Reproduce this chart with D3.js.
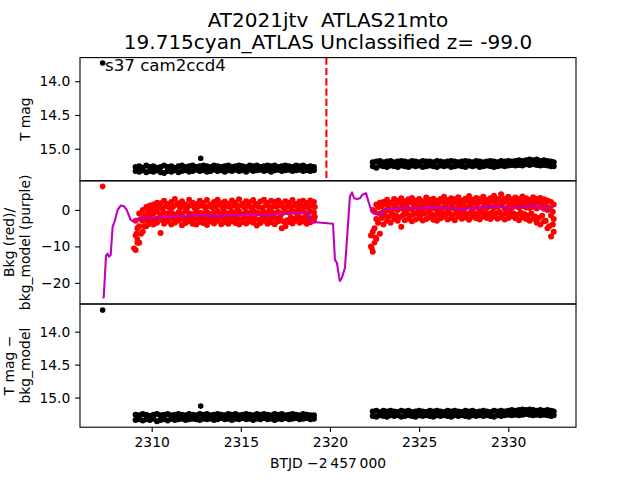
<!DOCTYPE html>
<html>
<head>
<meta charset="utf-8">
<script src="https://cdn.jsdelivr.net/npm/d3@7"></script>
<style>
  html, body { margin: 0; padding: 0; background: #fff; }
  svg { display: block; font-family: "DejaVu Sans", sans-serif; }
  text { white-space: pre; }
</style>
</head>
<body>
<script>
// ---------------- DATA ----------------
const titleLines = ["AT2021jtv  ATLAS21mto", "19.715cyan_ATLAS Unclassified z= -99.0"];
const annotation = "s37 cam2ccd4";
const xTicks = [2310, 2315, 2320, 2325, 2330];
const magTicks = [14.0, 14.5, 15.0];
const bkgTicks = [0, -10, -20];
const eventTime = 2319.8;

// times of segment 1 and segment 2 (BTJD - 2457000), plus interleaved half-step times
const t1 = [2309.1,2309.3,2309.5,2309.7,2309.9,2310.1,2310.3,2310.5,2310.7,2310.9,
            2311.1,2311.3,2311.5,2311.7,2311.9,2312.1,2312.3,2312.5,2312.7,2312.9,
            2313.1,2313.3,2313.5,2313.7,2313.9,2314.1,2314.3,2314.5,2314.7,2314.9,
            2315.1,2315.3,2315.5,2315.7,2315.9,2316.1,2316.3,2316.5,2316.7,2316.9,
            2317.1,2317.3,2317.5,2317.7,2317.9,2318.1,2318.3,2318.5,2318.7,2318.9,
            2319.1];
const t1h = [2309.2,2309.4,2309.6,2309.8,2310.0,2310.2,2310.4,2310.6,2310.8,2311.0,
             2311.2,2311.4,2311.6,2311.8,2312.0,2312.2,2312.4,2312.6,2312.8,2313.0,
             2313.2,2313.4,2313.6,2313.8,2314.0,2314.2,2314.4,2314.6,2314.8,2315.0,
             2315.2,2315.4,2315.6,2315.8,2316.0,2316.2,2316.4,2316.6,2316.8,2317.0,
             2317.2,2317.4,2317.6,2317.8,2318.0,2318.2,2318.4,2318.6,2318.8,2319.0,
             2319.15];
const t2 = [2322.4,2322.6,2322.8,2323.0,2323.2,2323.4,2323.6,2323.8,2324.0,2324.2,
            2324.4,2324.6,2324.8,2325.0,2325.2,2325.4,2325.6,2325.8,2326.0,2326.2,
            2326.4,2326.6,2326.8,2327.0,2327.2,2327.4,2327.6,2327.8,2328.0,2328.2,
            2328.4,2328.6,2328.8,2329.0,2329.2,2329.4,2329.6,2329.8,2330.0,2330.2,
            2330.4,2330.6,2330.8,2331.0,2331.2,2331.4,2331.6,2331.8,2332.0,2332.2,
            2332.4,2332.55];
const t2h = [2322.3,2322.5,2322.7,2322.9,2323.1,2323.3,2323.5,2323.7,2323.9,2324.1,
             2324.3,2324.5,2324.7,2324.9,2325.1,2325.3,2325.5,2325.7,2325.9,2326.1,
             2326.3,2326.5,2326.7,2326.9,2327.1,2327.3,2327.5,2327.7,2327.9,2328.1,
             2328.3,2328.5,2328.7,2328.9,2329.1,2329.3,2329.5,2329.7,2329.9,2330.1,
             2330.3,2330.5,2330.7,2330.9,2331.1,2331.3,2331.5,2331.7,2331.9,2332.1,
             2332.3,2332.5];

// Panel 1: T mag
const tmagA1 = [15.27,15.26,15.28,15.25,15.27,15.26,15.28,15.27,15.25,15.27,
                15.26,15.28,15.26,15.25,15.27,15.26,15.25,15.27,15.26,15.25,
                15.26,15.27,15.25,15.26,15.27,15.26,15.25,15.27,15.26,15.25,
                15.26,15.27,15.25,15.26,15.25,15.27,15.26,15.25,15.26,15.25,
                15.27,15.26,15.25,15.26,15.27,15.25,15.26,15.25,15.27,15.26,
                15.27];
const tmagB1 = [15.33,15.34,15.32,15.35,15.33,15.34,15.32,15.35,15.36,15.33,
                15.34,15.32,15.35,15.33,15.32,15.34,15.33,15.31,15.33,15.32,
                15.34,15.33,15.31,15.33,15.32,15.34,15.32,15.33,15.31,15.33,
                15.32,15.34,15.31,15.33,15.32,15.31,15.33,15.32,15.34,15.32,
                15.31,15.33,15.32,15.31,15.33,15.32,15.31,15.33,15.32,15.33,
                15.32];
const tmagA2 = [15.20,15.19,15.18,15.20,15.19,15.18,15.20,15.19,15.18,15.19,
                15.20,15.18,15.19,15.20,15.18,15.19,15.19,15.20,15.18,15.19,
                15.20,15.19,15.18,15.19,15.20,15.19,15.18,15.19,15.20,15.18,
                15.19,15.20,15.19,15.18,15.19,15.20,15.18,15.19,15.18,15.19,
                15.18,15.17,15.18,15.17,15.16,15.17,15.16,15.18,15.17,15.18,
                15.19,15.20];
const tmagB2 = [15.26,15.28,15.25,15.26,15.27,15.25,15.26,15.27,15.25,15.26,
                15.27,15.25,15.26,15.25,15.27,15.26,15.25,15.26,15.27,15.25,
                15.26,15.25,15.27,15.26,15.25,15.26,15.27,15.25,15.26,15.25,
                15.27,15.26,15.25,15.26,15.27,15.26,15.25,15.26,15.25,15.24,
                15.25,15.24,15.25,15.23,15.24,15.23,15.24,15.25,15.24,15.25,
                15.26,15.26];
const extraT = [2307.25, 2312.75];
const tmagExtra = [13.73, 15.14];

// Panel 2: background (red) and background model (purple)
const bkgHi1 = [-3.0,-1.0,0.0,0.8,1.2,1.5,2.0,1.8,2.5,1.6,
                2.2,3.0,1.8,2.4,1.5,2.8,2.0,1.6,2.5,1.9,
                2.7,1.5,2.2,2.8,1.8,2.3,1.6,2.6,2.0,2.9,
                1.7,2.4,2.1,2.7,1.6,2.3,2.8,1.9,2.5,2.2,
                2.6,1.8,2.4,2.0,2.7,1.6,2.3,2.5,1.9,2.6,
                2.2];
const bkgUm1 = [-5.0,-2.5,-1.5,-0.5,0.2,0.5,0.8,0.4,1.0,0.6,
                0.9,1.4,0.5,1.1,0.7,1.3,0.6,0.9,1.2,0.5,
                1.1,0.7,1.0,1.4,0.6,1.0,0.8,1.2,0.5,1.3,
                0.7,1.1,0.6,1.2,0.8,0.5,1.3,0.7,1.0,0.9,
                1.2,0.6,1.0,0.8,1.3,0.5,1.1,0.9,0.7,1.2,
                0.8];
const bkgMid1 = [-7.0,-4.5,-3.0,-2.0,-1.5,-1.0,-0.5,-1.2,-0.8,-1.0,
                 -0.6,-1.3,-0.7,-1.1,-0.4,-0.9,-1.2,-0.5,-0.8,-1.0,
                 -0.6,-1.1,-0.7,-0.3,-0.9,-0.6,-1.0,-0.5,-0.8,-0.4,
                 -1.1,-0.6,-0.9,-0.3,-0.7,-1.0,-0.5,-0.8,-0.4,-0.9,
                 -0.6,-1.0,-0.5,-0.7,-0.3,-0.8,-0.6,-0.4,-0.9,-0.5,
                 -0.7];
const bkgLm1 = [-9.0,-6.5,-4.5,-3.2,-2.6,-2.5,-2.2,-2.8,-2.4,-2.1,
                -2.5,-2.3,-2.0,-2.6,-2.2,-1.9,-2.5,-2.3,-2.0,-2.4,
                -2.6,-2.1,-2.3,-1.8,-2.5,-2.2,-2.4,-2.0,-2.3,-2.6,
                -2.0,-2.4,-2.1,-2.3,-2.7,-2.2,-1.9,-2.5,-2.1,-2.4,
                -2.0,-3.2,-2.8,-2.1,-2.4,-1.9,-2.3,-2.0,-2.5,-2.2,
                -1.9];
const bkgLo1 = [-11.0,-9.0,-6.0,-4.5,-3.8,-4.0,-3.5,-6.3,-3.8,-3.2,
                -4.0,-3.5,-3.0,-4.2,-3.6,-3.1,-3.8,-4.0,-3.3,-3.6,
                -4.1,-3.2,-3.7,-3.0,-3.9,-3.4,-3.8,-3.1,-3.6,-4.0,
                -3.3,-3.7,-3.2,-3.5,-4.3,-3.6,-3.0,-3.8,-3.4,-3.9,
                -3.1,-5.0,-4.5,-3.3,-3.7,-3.0,-3.5,-3.2,-3.8,-3.4,
                -3.0];
const bkgHi2 = [0.0,1.5,2.0,2.2,2.8,2.0,3.0,2.5,3.2,2.4,
                2.9,3.3,2.6,3.0,2.4,3.4,2.8,3.1,2.5,3.0,
                3.6,2.7,3.2,2.9,3.5,2.6,3.1,3.8,2.8,3.3,
                3.0,3.6,2.7,3.2,3.9,3.0,4.3,3.1,3.6,2.9,
                3.4,3.0,3.7,3.2,2.8,3.5,3.0,3.3,2.9,2.6,
                2.2,1.5];
const bkgUm2 = [-7.0,-0.5,0.8,1.0,1.5,1.1,1.8,1.4,2.0,1.2,
                1.7,2.1,1.5,1.8,1.3,2.2,1.6,1.9,1.4,1.8,
                2.3,1.5,2.0,1.7,2.3,1.4,1.9,2.5,1.6,2.1,
                1.8,2.4,1.5,2.0,2.6,1.8,2.8,1.9,2.3,1.7,
                2.2,1.8,2.5,2.0,1.6,2.3,1.8,2.1,1.6,1.3,
                0.5,-0.5];
const bkgMid2 = [-6.0,-2.5,-1.0,-0.5,0.0,-0.3,0.3,0.0,0.5,-0.2,
                 0.4,0.1,0.6,0.0,0.3,0.7,0.2,0.5,-0.1,0.4,
                 0.8,0.2,0.6,0.3,0.9,0.1,0.5,1.0,0.4,0.7,
                 0.2,0.8,0.5,1.0,0.6,0.9,1.2,0.4,0.8,0.5,
                 1.0,0.6,1.1,0.7,0.5,0.9,0.4,0.8,0.3,0.0,
                 -1.5,-2.5];
const bkgLm2 = [-10.0,-5.0,-3.5,-2.2,-1.5,-1.9,-1.1,-1.5,-2.0,-1.4,
                -1.0,-1.6,-1.1,-0.9,-1.4,-1.0,-0.8,-1.2,-1.5,-1.0,
                -0.7,-1.2,-0.9,-1.3,-0.6,-1.1,-0.8,-1.2,-0.7,-1.0,
                -1.2,-0.6,-0.9,-1.1,-0.7,-1.0,-0.6,-1.2,-0.9,-0.5,
                -1.0,-1.3,-0.8,-1.1,-1.5,-1.0,-1.8,-2.2,-1.6,-3.0,
                -4.5,-4.0];
const bkgLo2 = [-11.5,-8.0,-6.5,-4.0,-3.0,-3.5,-2.5,-3.0,-4.6,-2.8,
                -2.4,-3.1,-2.6,-2.2,-2.9,-2.5,-2.0,-2.7,-3.0,-2.3,
                -1.9,-2.6,-2.2,-2.8,-1.8,-2.4,-2.1,-2.7,-1.9,-2.3,
                -2.6,-1.8,-2.2,-2.5,-1.9,-2.4,-2.0,-2.6,-2.2,-1.7,
                -2.3,-2.8,-2.1,-2.5,-3.0,-2.4,-3.5,-4.0,-3.2,-5.0,
                -7.3,-6.0];
const bkgExtraT = [2307.25, 2309.0, 2309.2, 2309.15, 2322.35, 2322.5, 2322.55];
const bkgExtraV = [6.45, -10.5, -8.0, -6.5, -10.5, -9.0, -7.5];

const modelT = [2307.25,2307.31,2307.44,2307.53,2307.60,2307.70,2307.81,2307.92,2308.09,2308.26,
                2308.43,2308.60,2308.82,2308.99,2309.3,2309.6,2309.9,2310.3,2310.7,2311.0,
                2311.4,2311.8,2312.2,2312.7,2313.1,2313.5,2314.0,2314.4,2314.8,2315.2,
                2315.5,2315.9,2316.3,2316.6,2317.0,2317.4,2317.75,2318.1,2318.5,2318.76,
                2318.93,2319.04,2320.17,2320.28,2320.39,2320.51,2320.56,2320.67,2320.84,2321.01,
                2321.12,2321.24,2321.35,2321.52,2321.69,2321.80,2322.02,2322.19,2322.36,2322.58,
                2322.92,2323.03,2323.4,2323.9,2324.4,2324.9,2325.6,2326.2,2326.8,2327.30,
                2327.42,2327.58,2328.1,2328.6,2329.1,2329.55,2329.83,2330.3,2330.8,2331.24,
                2331.5,2331.80,2332.25,2332.53];
const modelV = [-24.1,-24.0,-12.5,-12.0,-12.8,-12.4,-4.6,-3.2,0.0,1.2,
                1.1,0.0,-2.7,-3.2,-2.2,-2.4,-2.1,-2.2,-1.8,-1.9,
                -1.6,-1.8,-1.5,-1.4,-1.7,-1.5,-1.6,-1.5,-1.3,-1.6,
                -1.0,-1.4,-1.3,-1.5,-1.2,-1.0,-1.1,-0.8,-0.9,-0.5,
                -3.2,-3.3,-3.8,-13.7,-14.5,-18.3,-19.5,-18.6,-15.9,-4.1,
                3.7,4.8,3.2,3.0,3.2,4.1,4.6,1.8,-0.6,-1.2,
                -1.4,0.2,0.3,0.5,0.6,0.4,0.7,0.6,0.5,0.3,
                -0.3,0.3,0.5,0.7,0.9,1.1,0.5,0.6,0.8,1.2,
                1.0,0.5,0.6,0.6];

// Panel 3: T mag - bkg_model
const diffA1 = [15.26,15.27,15.25,15.26,15.28,15.26,15.25,15.27,15.26,15.25,
                15.27,15.26,15.25,15.26,15.27,15.25,15.26,15.27,15.25,15.26,
                15.25,15.27,15.26,15.25,15.26,15.27,15.25,15.26,15.25,15.27,
                15.26,15.25,15.26,15.27,15.25,15.26,15.25,15.26,15.27,15.25,
                15.26,15.25,15.27,15.26,15.25,15.26,15.27,15.25,15.26,15.27,
                15.27];
const diffB1 = [15.34,15.33,15.35,15.33,15.34,15.32,15.36,15.34,15.33,15.35,
                15.32,15.34,15.33,15.32,15.34,15.33,15.32,15.33,15.34,15.32,
                15.33,15.32,15.34,15.33,15.31,15.33,15.32,15.34,15.32,15.33,
                15.31,15.33,15.32,15.34,15.32,15.33,15.31,15.33,15.32,15.34,
                15.32,15.33,15.31,15.33,15.32,15.31,15.33,15.32,15.31,15.33,
                15.32];
const diffA2 = [15.21,15.20,15.22,15.20,15.21,15.20,15.21,15.22,15.20,15.21,
                15.20,15.22,15.21,15.20,15.21,15.22,15.20,15.21,15.20,15.21,
                15.22,15.20,15.21,15.20,15.21,15.22,15.20,15.21,15.20,15.22,
                15.21,15.20,15.21,15.22,15.20,15.21,15.20,15.21,15.20,15.19,
                15.20,15.19,15.18,15.19,15.18,15.19,15.20,15.19,15.20,15.19,
                15.20,15.21];
const diffB2 = [15.28,15.29,15.27,15.28,15.29,15.27,15.28,15.27,15.29,15.28,
                15.27,15.28,15.29,15.27,15.28,15.27,15.28,15.29,15.27,15.28,
                15.27,15.28,15.29,15.27,15.28,15.27,15.28,15.29,15.27,15.28,
                15.27,15.28,15.27,15.28,15.29,15.27,15.28,15.27,15.26,15.27,
                15.26,15.27,15.26,15.25,15.26,15.27,15.26,15.27,15.26,15.27,
                15.28,15.27];
const diffExtra = [13.67, 15.13];

// ---------------- LAYOUT ----------------
const W = 640, H = 480;
const L = 80, R = 576;
const rows = [[57.6, 180.8], [180.8, 304], [304, 427.2]];
const FS = 13.89, FS_T = 20, FS_A = 16.67;
const LW = 2.08, SPINE = 1.11;

const svg = d3.select("body").append("svg").attr("width", W).attr("height", H);
svg.append("rect").attr("width", W).attr("height", H).attr("fill", "#fff");

const x = d3.scaleLinear().domain([2305.98, 2333.80]).range([L, R]);
const y1 = d3.scaleLinear().domain([13.65, 15.475]).range(rows[0]);
const y2 = d3.scaleLinear().domain([-25.8, 7.99]).range([rows[1][1], rows[1][0]]);
const y3 = d3.scaleLinear().domain([13.58, 15.45]).range(rows[2]);

const defs = svg.append("defs");
rows.forEach((r, i) => {
  defs.append("clipPath").attr("id", "clip" + i)
    .append("rect").attr("x", L).attr("y", r[0]).attr("width", R - L).attr("height", r[1] - r[0]);
});

function dots(g, ts, vs, ys, color, rad) {
  const pts = ts.map((t, i) => [t, vs[i]]).filter(d => d[1] !== undefined);
  g.selectAll(null).data(pts).enter().append("circle")
    .attr("cx", d => x(d[0])).attr("cy", d => ys(d[1])).attr("r", rad).attr("fill", color);
}

const TICK = 4.86, PAD = 4.86;
function styleAxis(g) {
  g.select(".domain").remove();
  g.selectAll(".tick line").attr("stroke", "#000").attr("stroke-width", SPINE);
  g.selectAll(".tick text").attr("fill", "#000").style("font-size", FS + "px").style("font-family", "DejaVu Sans");
}

// Panel 1
const g1 = svg.append("g").attr("clip-path", "url(#clip0)");
dots(g1, t1, tmagA1, y1, "#000", 3);
dots(g1, t1, tmagB1, y1, "#000", 3);
dots(g1, t2, tmagA2, y1, "#000", 3);
dots(g1, t2, tmagB2, y1, "#000", 3);
dots(g1, extraT, tmagExtra, y1, "#000", 2.8);
g1.append("line").attr("x1", x(eventTime)).attr("x2", x(eventTime))
  .attr("y1", rows[0][0]).attr("y2", rows[0][1])
  .attr("stroke", "#ff0000").attr("stroke-width", LW).attr("stroke-dasharray", "7.2,3.1");

// Panel 2
const g2 = svg.append("g").attr("clip-path", "url(#clip1)");
dots(g2, t1, bkgHi1, y2, "#ff0000", 3);
dots(g2, t1h, bkgUm1, y2, "#ff0000", 3);
dots(g2, t1, bkgMid1, y2, "#ff0000", 3);
dots(g2, t1h, bkgLm1, y2, "#ff0000", 3);
dots(g2, t1, bkgLo1, y2, "#ff0000", 3);
dots(g2, t2, bkgHi2, y2, "#ff0000", 3);
dots(g2, t2h, bkgUm2, y2, "#ff0000", 3);
dots(g2, t2, bkgMid2, y2, "#ff0000", 3);
dots(g2, t2h, bkgLm2, y2, "#ff0000", 3);
dots(g2, t2, bkgLo2, y2, "#ff0000", 3);
dots(g2, bkgExtraT, bkgExtraV, y2, "#ff0000", 2.8);
g2.append("path")
  .datum(modelT.map((t, i) => [t, modelV[i]]))
  .attr("d", d3.line().x(d => x(d[0])).y(d => y2(d[1])))
  .attr("fill", "none").attr("stroke", "#bf00bf").attr("stroke-width", LW).attr("stroke-linejoin", "round");

// Panel 3
const g3 = svg.append("g").attr("clip-path", "url(#clip2)");
dots(g3, t1, diffA1, y3, "#000", 3);
dots(g3, t1, diffB1, y3, "#000", 3);
dots(g3, t2, diffA2, y3, "#000", 3);
dots(g3, t2, diffB2, y3, "#000", 3);
dots(g3, extraT, diffExtra, y3, "#000", 2.8);

// Axes
svg.append("g").attr("transform", `translate(${L},0)`)
  .call(d3.axisLeft(y1).tickValues(magTicks).tickFormat(d3.format(".1f")).tickSize(TICK).tickPadding(PAD)).call(styleAxis);
svg.append("g").attr("transform", `translate(${L},0)`)
  .call(d3.axisLeft(y2).tickValues(bkgTicks).tickFormat(d3.format("d")).tickSize(TICK).tickPadding(PAD)).call(styleAxis);
svg.append("g").attr("transform", `translate(${L},0)`)
  .call(d3.axisLeft(y3).tickValues(magTicks).tickFormat(d3.format(".1f")).tickSize(TICK).tickPadding(PAD)).call(styleAxis);
svg.append("g").attr("transform", `translate(0,${rows[2][1]})`)
  .call(d3.axisBottom(x).tickValues(xTicks).tickFormat(d3.format("d")).tickSize(TICK).tickPadding(PAD)).call(styleAxis);

// Frames
rows.forEach(r => {
  svg.append("rect").attr("x", L).attr("y", r[0]).attr("width", R - L).attr("height", r[1] - r[0])
    .attr("fill", "none").attr("stroke", "#000").attr("stroke-width", SPINE);
});

// Texts
const cx = (L + R) / 2;
svg.append("text").attr("x", cx).attr("y", 26.7).attr("text-anchor", "middle")
  .style("font-size", FS_T + "px").text(titleLines[0]);
svg.append("text").attr("x", cx).attr("y", 49).attr("text-anchor", "middle")
  .style("font-size", FS_T + "px").text(titleLines[1]);
svg.append("text").attr("x", 105).attr("y", 70.7)
  .style("font-size", FS_A + "px").text(annotation);

svg.append("text").attr("x", cx).attr("y", 468).attr("text-anchor", "middle")
  .style("font-size", FS + "px").text("BTJD \u22122\u2009457\u2009000");

function ylab(xb, yc, s) {
  svg.append("text").attr("transform", `translate(${xb},${yc}) rotate(-90)`)
    .attr("text-anchor", "middle").style("font-size", FS + "px").text(s);
}
ylab(30, (rows[0][0] + rows[0][1]) / 2, "T mag");
ylab(14, (rows[1][0] + rows[1][1]) / 2, "Bkg (red)/");
ylab(30, (rows[1][0] + rows[1][1]) / 2, "bkg_model (purple)");
ylab(14, (rows[2][0] + rows[2][1]) / 2, "T mag \u2212");
ylab(30, (rows[2][0] + rows[2][1]) / 2, "bkg_model");
</script>
</body>
</html>
